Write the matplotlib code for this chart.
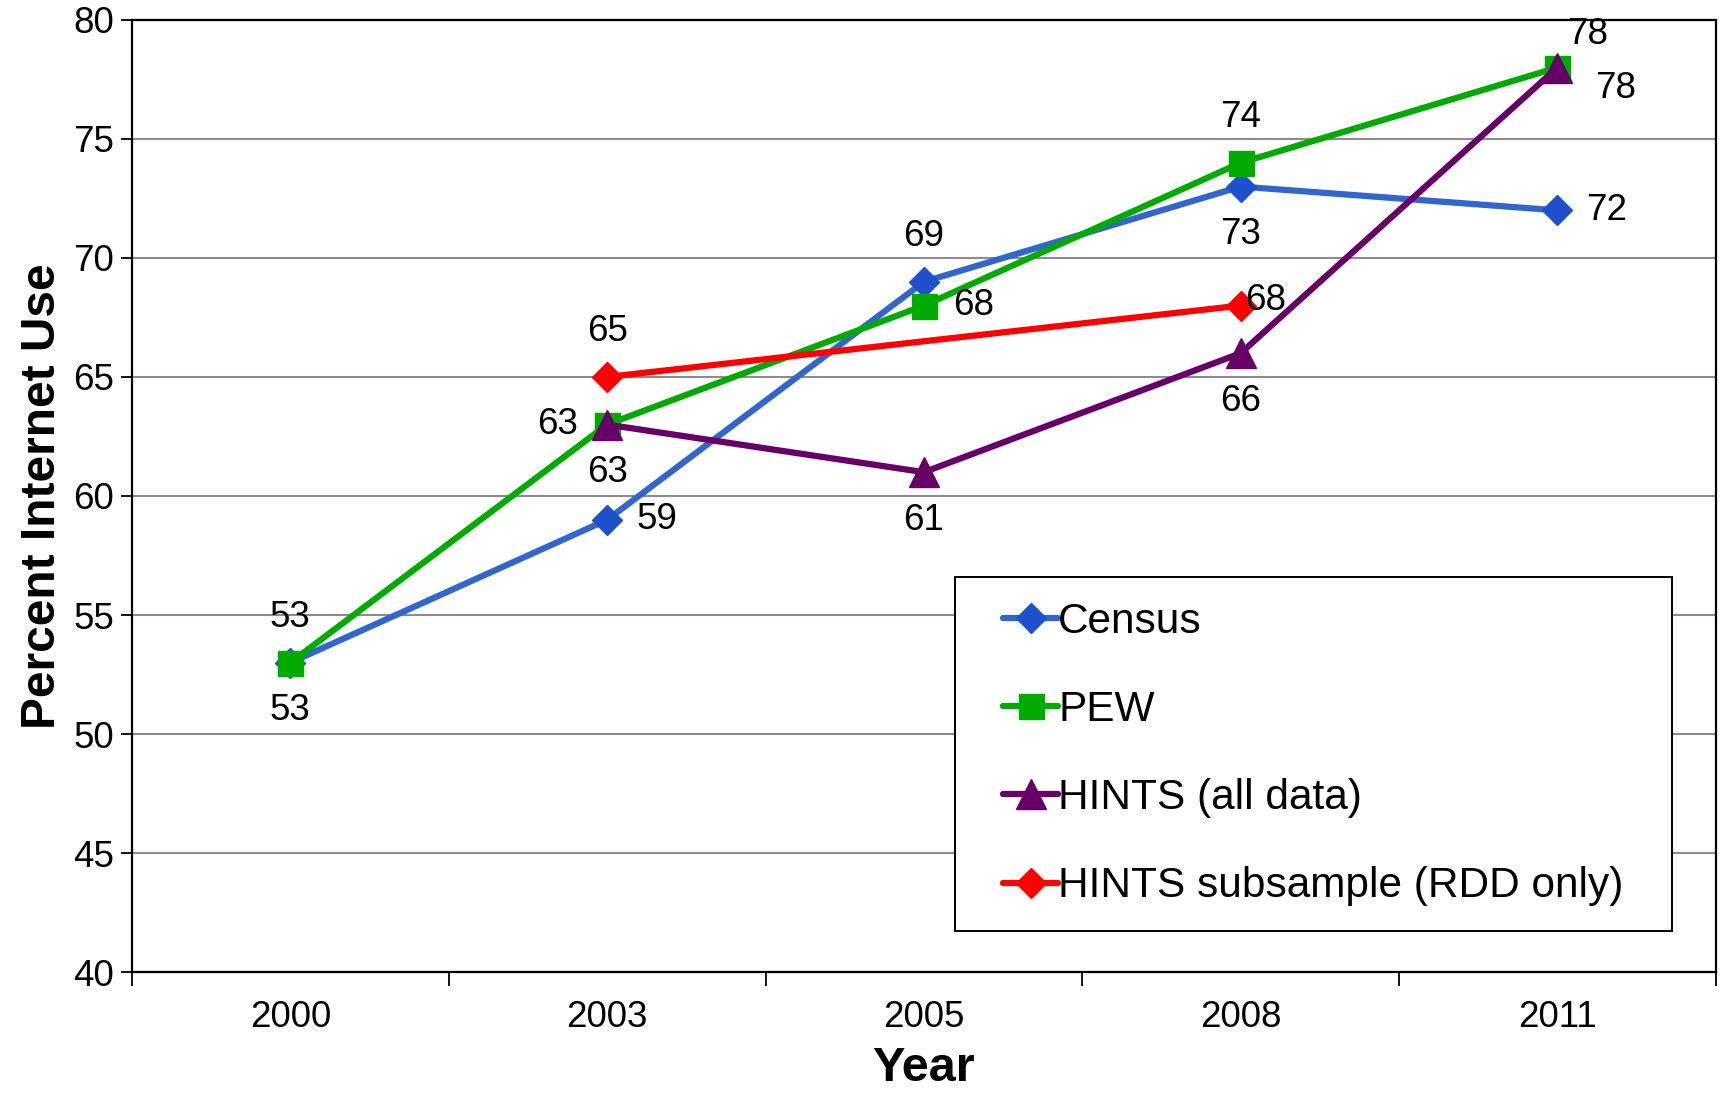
import numpy as np
import matplotlib
matplotlib.use("Agg")
import matplotlib.pyplot as plt
from matplotlib.patches import Rectangle

plt.rcParams['font.family'] = ['Liberation Sans', 'DejaVu Sans']

years = ["2000", "2003", "2005", "2008", "2011"]
census = [53, 59, 69, 73, 72]
pew = [53, 63, 68, 74, 78]
hints_all = [np.nan, 63, 61, 66, 78]
hints_rdd = [np.nan, 65, np.nan, 68, np.nan]

series_names = ["Census", "PEW", "HINTS (all data)", "HINTS subsample (RDD only)"]

# label placement per point
census_pos = ["below", "right", "above", "below", "right"]
pew_pos = ["above", "left", "right", "above", "above_r"]
hints_all_pos = [None, "below", "below", "below", "right_low"]
hints_rdd_pos = [None, "above", None, "right_near", None]

# (dx, dy, ha) in pixels
offsets = {
    "above": (0, 45, "center"),
    "above_r": (30, 33, "center"),
    "below": (0, -48, "center"),
    "right": (29, 0, "left"),
    "right_near": (4, 5, "left"),
    "right_low": (38, -21, "left"),
    "left": (-29, 0, "right"),
}

fig = plt.figure(figsize=(17.21, 10.96), dpi=100)
ax = fig.add_axes([0.0767, 0.1131, 0.9203, 0.8687])

x = np.arange(len(years))

def draw(vals, color, mcolor, marker, ms, label, positions):
    v = np.array(vals, dtype=float)
    m = ~np.isnan(v)
    ax.plot(x[m], v[m], color=color, lw=4.5, marker=marker, ms=ms,
            markerfacecolor=mcolor, markeredgecolor=mcolor, label=label,
            zorder=3, solid_capstyle='round')
    for xi, vi, p in zip(x, v, positions):
        if p is None or np.isnan(vi):
            continue
        dx, dy, ha = offsets[p]
        ax.annotate(f"{int(vi)}", (xi, vi), xytext=(dx, dy), textcoords="offset pixels",
                    ha=ha, va="center", fontsize=26.5, color="black", zorder=5)

draw(census, "#3366CC", "#1F50CC", "D", 15, series_names[0], census_pos)
draw(pew, "#00AA00", "#00AA00", "s", 18, series_names[1], pew_pos)
draw(hints_all, "#660066", "#660066", "^", 22, series_names[2], hints_all_pos)
draw(hints_rdd, "#FF0000", "#FF0000", "D", 15, series_names[3], hints_rdd_pos)

ax.set_xlim(-0.5, len(years) - 0.5)
ax.set_ylim(40, 80)
ax.set_yticks(np.arange(40, 81, 5))
ax.set_xticks(x)
ax.set_xticklabels(years)
ax.set_xticks(np.arange(-0.5, len(years)), minor=True)
ax.tick_params(axis='x', which='major', length=0, labelsize=26.5, pad=20)
ax.tick_params(axis='x', which='minor', length=10, width=1.3, direction='out')
ax.tick_params(axis='y', length=8, width=1.3, labelsize=26.5, pad=5)
ax.yaxis.grid(True, color="#8C8C8C", lw=1.5)
ax.set_axisbelow(True)
for s in ax.spines.values():
    s.set_linewidth(1.6)
    s.set_color("black")

ax.set_ylabel("Percent Internet Use", fontsize=34.5, fontweight="bold", labelpad=6)
ax.set_xlabel("Year", fontsize=35, fontweight="bold", labelpad=8)

# legend box (axes fraction) with the entries centred inside it
legend_box = (0.5196, 0.0431, 0.4527, 0.3718)
ax.add_patch(Rectangle(legend_box[:2], legend_box[2], legend_box[3],
                       transform=ax.transAxes, facecolor="white", edgecolor="black",
                       lw=1.4, zorder=4.5))
leg = ax.legend(loc="center", bbox_to_anchor=legend_box, fontsize=30.5,
                frameon=False, borderpad=0, labelspacing=1.14, handlelength=1.3,
                handletextpad=0.0, borderaxespad=0)
leg.set_zorder(6)

fig.savefig("out.png", dpi=100)
